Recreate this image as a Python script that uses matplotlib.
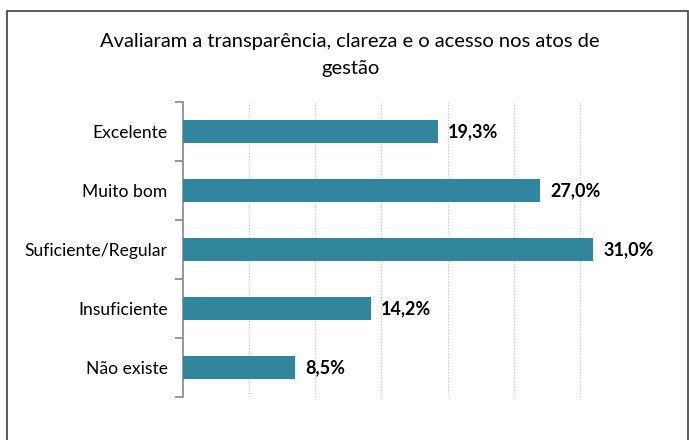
import matplotlib.pyplot as plt
from matplotlib.patches import Rectangle
import numpy as np

categorias = ["Excelente", "Muito bom", "Suficiente/Regular", "Insuficiente", "Não existe"]
valores = [19.3, 27.0, 31.0, 14.2, 8.5]
rotulos = ["19,3%", "27,0%", "31,0%", "14,2%", "8,5%"]
titulo = "Avaliaram a transparência, clareza e o acesso nos atos de\ngestão"

plt.rcParams['font.family'] = ['Lato', 'DejaVu Sans']

fig = plt.figure(figsize=(6.89, 4.40), dpi=100)
ax = fig.add_axes([0.2656, 0.0977, 0.672, 0.6705])

y = np.arange(len(categorias))
ax.barh(y, valores, height=0.39, color='#31859C', zorder=3)

for yi, v, r in zip(y, valores, rotulos):
    ax.text(v + 0.75, yi, r, va='center', ha='left', fontsize=13, fontweight='bold', color='black')

ax.set_xlim(0, 35)
ax.set_ylim(len(categorias) - 0.5, -0.5)
ax.set_xticks(np.arange(5, 36, 5))
ax.set_xticklabels([])
ax.tick_params(axis='x', length=0)
ax.grid(axis='x', color='#D0D0D0', linestyle=(0, (1.2, 1.2)), linewidth=0.9, zorder=0)

ax.set_yticks(y)
ax.set_yticklabels(categorias, fontsize=12.6)
ax.set_yticks(np.arange(-0.5, len(categorias)), minor=True)
ax.tick_params(axis='y', which='major', length=0, pad=11)
ax.tick_params(axis='y', which='minor', length=6, color='#868686', width=1.2)

for s in ['top', 'right', 'bottom']:
    ax.spines[s].set_visible(False)
ax.spines['left'].set_color('#868686')
ax.spines['left'].set_linewidth(1.2)

fig.text(0.508, 0.925, titulo, ha='center', va='top', fontsize=14.5, linespacing=1.7)

fig.patches.append(Rectangle((7 / 689, -0.01), 681 / 689, 1 - 11 / 440 + 0.01,
                             transform=fig.transFigure, fill=False,
                             edgecolor='#404040', linewidth=1.2))

fig.savefig('out.png', dpi=100)
